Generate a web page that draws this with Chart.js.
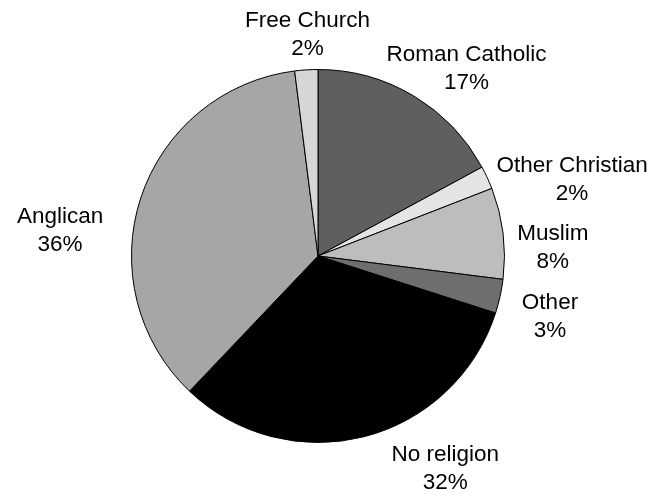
<!DOCTYPE html>
<html>
<head>
<meta charset="utf-8">
<script src="https://cdn.jsdelivr.net/npm/chart.js@4/dist/chart.umd.min.js"></script>
<style>
  html, body { margin: 0; padding: 0; background: #fff; }
  #wrap { width: 655px; height: 495px; }
</style>
</head>
<body>
<div id="wrap"><canvas id="pieChart" width="655" height="495"></canvas></div>
<script>
// Dados do gráfico (ordem horária a partir do topo)
const categorias = ["Roman Catholic", "Other Christian", "Muslim", "Other", "No religion", "Anglican", "Free Church"];
const percentuais = [17.1, 2.0, 7.9, 2.95, 32.15, 35.9, 2.0];
const cores = ["#5f5f5f", "#e4e4e4", "#bdbdbd", "#6e6e6e", "#000000", "#a6a6a6", "#d6d6d6"];

// Ajuste fino dos rótulos em relação à posição calculada pelo ângulo médio
const ajusteRotulos = [
  { dx: 30, dy: 12 },
  { dx: 44, dy: 21 },
  { dx: 5, dy: 20 },
  { dx: 6, dy: 11 },
  { dx: 70, dy: -12 },
  { dx: -38, dy: 47 },
  { dx: 4, dy: 10 }
];

// Plugin simples para desenhar "nome / xx%" fora de cada fatia
const rotulosExternos = {
  id: "rotulosExternos",
  afterDatasetsDraw(chart) {
    const ctx = chart.ctx;
    const meta = chart.getDatasetMeta(0);
    ctx.save();
    ctx.font = "22.5px 'Liberation Sans', Arial, sans-serif";
    ctx.fillStyle = "#000";
    ctx.textAlign = "center";
    ctx.textBaseline = "middle";
    meta.data.forEach((arc, i) => {
      const meio = (arc.startAngle + arc.endAngle) / 2;
      const dist = arc.outerRadius + 45;
      const aj = ajusteRotulos[i] || { dx: 0, dy: 0 };
      const x = arc.x + Math.cos(meio) * dist + aj.dx;
      const y = arc.y + Math.sin(meio) * dist + aj.dy;
      ctx.fillText(categorias[i], x, y - 14);
      ctx.fillText(Math.round(percentuais[i]) + "%", x, y + 14);
    });
    ctx.restore();
  }
};

const ctxPie = document.getElementById("pieChart").getContext("2d");
new Chart(ctxPie, {
  type: "pie",
  data: {
    labels: categorias,
    datasets: [{
      data: percentuais,
      backgroundColor: cores,
      borderColor: "#000",
      borderWidth: 1
    }]
  },
  options: {
    responsive: false,
    animation: false,
    devicePixelRatio: 1,
    layout: {
      padding: { left: 131, right: 150, top: 69, bottom: 52 }
    },
    plugins: {
      legend: { display: false },
      tooltip: { enabled: false }
    }
  },
  plugins: [rotulosExternos]
});
</script>
</body>
</html>
